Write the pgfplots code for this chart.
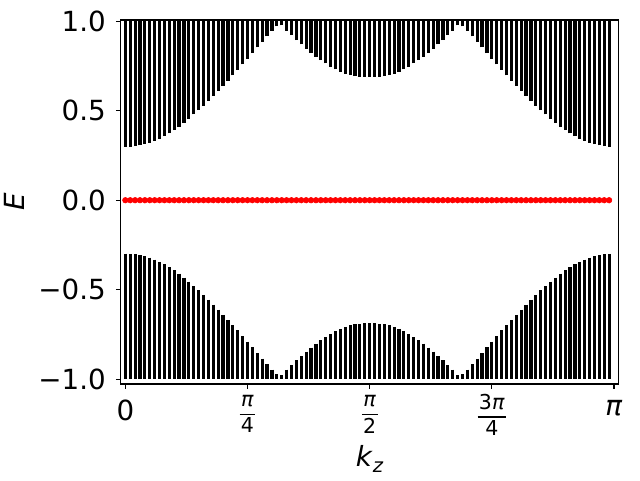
\documentclass[border=0pt]{standalone}
\usepackage{fontspec}
\setmainfont{DejaVu Sans}
\usepackage{pgfplots}
\pgfplotsset{compat=1.18}
\usepackage{pgfplotstable}

\newcommand{\fr}[2]{{\fontsize{15.4}{16}\selectfont\renewcommand{\arraystretch}{0.85}\setlength{\arrayrulewidth}{1pt}\raisebox{0pt}[\dimexpr\height-4.6pt\relax]{\begin{tabular}{@{\hspace{1pt}}c@{\hspace{1pt}}}#1\\[1.2pt]\hline\noalign{\vskip 2pt}#2\end{tabular}}}}

\pgfplotstableread{
i e ne len r
0 0.298 -0.298 0.702 0
1 0.299 -0.299 0.701 0
2 0.302 -0.302 0.698 0
3 0.306 -0.306 0.694 0
4 0.313 -0.313 0.687 0
5 0.321 -0.321 0.679 0
6 0.331 -0.331 0.669 0
7 0.344 -0.344 0.656 0
8 0.358 -0.358 0.642 0
9 0.373 -0.373 0.627 0
10 0.391 -0.391 0.609 0
11 0.410 -0.410 0.590 0
12 0.432 -0.432 0.568 0
13 0.455 -0.455 0.545 0
14 0.479 -0.479 0.521 0
15 0.503 -0.503 0.497 0
16 0.528 -0.528 0.472 0
17 0.555 -0.555 0.445 0
18 0.583 -0.583 0.417 0
19 0.611 -0.611 0.389 0
20 0.640 -0.640 0.360 0
21 0.668 -0.668 0.332 0
22 0.697 -0.697 0.303 0
23 0.727 -0.727 0.273 0
24 0.758 -0.758 0.242 0
25 0.789 -0.789 0.211 0
26 0.821 -0.821 0.179 0
27 0.853 -0.853 0.147 0
28 0.884 -0.884 0.116 0
29 0.915 -0.915 0.085 0
30 0.945 -0.945 0.055 0
31 0.971 -0.971 0.029 0
32 0.976 -0.976 0.024 0
33 0.946 -0.946 0.054 0
34 0.922 -0.922 0.078 0
35 0.894 -0.894 0.106 0
36 0.870 -0.870 0.130 0
37 0.845 -0.845 0.155 0
38 0.823 -0.823 0.177 0
39 0.801 -0.801 0.199 0
40 0.782 -0.782 0.218 0
41 0.764 -0.764 0.236 0
42 0.746 -0.746 0.254 0
43 0.731 -0.731 0.269 0
44 0.718 -0.718 0.282 0
45 0.707 -0.707 0.293 0
46 0.699 -0.699 0.301 0
47 0.693 -0.693 0.307 0
48 0.690 -0.690 0.310 0
49 0.688 -0.688 0.312 0
50 0.688 -0.688 0.312 0
51 0.688 -0.688 0.312 0
52 0.690 -0.690 0.310 0
53 0.693 -0.693 0.307 0
54 0.699 -0.699 0.301 0
55 0.707 -0.707 0.293 0
56 0.718 -0.718 0.282 0
57 0.731 -0.731 0.269 0
58 0.746 -0.746 0.254 0
59 0.764 -0.764 0.236 0
60 0.782 -0.782 0.218 0
61 0.801 -0.801 0.199 0
62 0.823 -0.823 0.177 0
63 0.845 -0.845 0.155 0
64 0.870 -0.870 0.130 0
65 0.894 -0.894 0.106 0
66 0.922 -0.922 0.078 0
67 0.946 -0.946 0.054 0
68 0.976 -0.976 0.024 0
69 0.971 -0.971 0.029 0
70 0.945 -0.945 0.055 0
71 0.915 -0.915 0.085 0
72 0.884 -0.884 0.116 0
73 0.853 -0.853 0.147 0
74 0.821 -0.821 0.179 0
75 0.789 -0.789 0.211 0
76 0.758 -0.758 0.242 0
77 0.727 -0.727 0.273 0
78 0.697 -0.697 0.303 0
79 0.668 -0.668 0.332 0
80 0.640 -0.640 0.360 0
81 0.611 -0.611 0.389 0
82 0.583 -0.583 0.417 0
83 0.555 -0.555 0.445 0
84 0.528 -0.528 0.472 0
85 0.503 -0.503 0.497 0
86 0.479 -0.479 0.521 0
87 0.455 -0.455 0.545 0
88 0.432 -0.432 0.568 0
89 0.410 -0.410 0.590 0
90 0.391 -0.391 0.609 0
91 0.373 -0.373 0.627 0
92 0.358 -0.358 0.642 0
93 0.344 -0.344 0.656 0
94 0.331 -0.331 0.669 0
95 0.321 -0.321 0.679 0
96 0.313 -0.313 0.687 0
97 0.306 -0.306 0.694 0
98 0.302 -0.302 0.698 0
99 0.299 -0.299 0.701 0
}\bands

\begin{document}
\begin{tikzpicture}
\begin{axis}[
  scale only axis,
  width=373.5pt, height=273pt,
  xmin=-0.955, xmax=100.955,
  ymin=-1.026, ymax=1.006,
  axis line style={line width=0.83pt, black},
  tick pos=left,
  tick align=outside,
  major tick length=3.65pt,
  every tick/.style={line width=0.83pt, black},
  xtick={0,25,50,75,100},
  xticklabels={0, \fr{\textit{π}}{4}, \fr{\textit{π}}{2}, \fr{3\textit{π}}{4}, \textit{π}},
  ytick={-1,-0.5,0,0.5,1},
  yticklabels={−1.0,−0.5,0.0,0.5,1.0},
  tick label style={font=\fontsize{20.8}{25}\selectfont},
  xticklabel style={anchor=north, inner sep=0pt, yshift=-8.3pt},
  yticklabel style={anchor=east, inner sep=0pt, xshift=-7.3pt},
  label style={font=\fontsize{20.8}{25}\selectfont},
  xlabel={\textit{k}\raisebox{-0.22em}{\fontsize{14.6}{16}\selectfont\textit{z}}},
  xlabel style={at={(axis description cs:0.5,-0.2253)}, anchor=base, inner sep=0pt},
  ylabel={\textit{E}},
  ylabel style={at={(axis description cs:-0.1922,0.5)}, anchor=base, inner sep=0pt, rotate=0},
  clip=true,
]
\addplot[draw=none, mark=none, forget plot,
  error bars/.cd, y dir=plus, y explicit,
  error mark=none,
  error bar style={draw=black, line width=2.4pt}]
  table[x=i, y=e, y error=len] {\bands};
\addplot[draw=none, mark=none, forget plot,
  error bars/.cd, y dir=minus, y explicit,
  error mark=none,
  error bar style={draw=black, line width=2.4pt}]
  table[x=i, y=ne, y error=len] {\bands};
\addplot[only marks, mark=*, mark size=2.1pt, color=red, mark options={fill=red, draw=red}]
  table[x=i, y=r] {\bands};
\end{axis}
\pgfresetboundingbox
\path[use as bounding box] ([shift={(-90.5pt,-72pt)}]current axis.south west) rectangle ([shift={(16pt,15pt)}]current axis.north east);
\end{tikzpicture}
\end{document}
